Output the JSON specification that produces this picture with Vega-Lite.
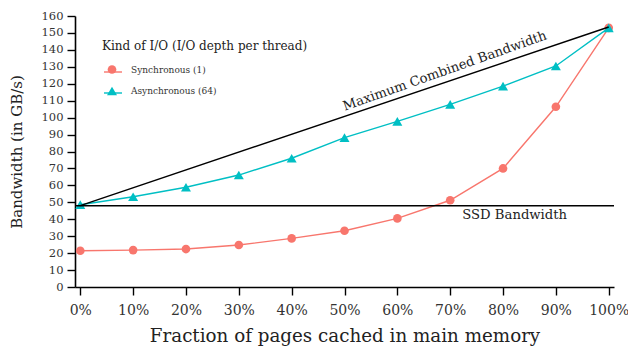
{
  "$schema": "https://vega.github.io/schema/vega-lite/v6.json",
  "width": 539,
  "height": 271,
  "autosize": {"type": "none"},
  "padding": {"left": 75, "top": 16, "right": 14, "bottom": 59},
  "config": {
    "font": "DejaVu Serif",
    "view": {"stroke": null},
    "axis": {
      "grid": false,
      "domainColor": "black",
      "domainWidth": 1.6,
      "tickColor": "black",
      "tickWidth": 1.4,
      "tickSize": 8,
      "labelColor": "#333",
      "labelFont": "DejaVu Serif",
      "labelOverlap": false,
      "titleFont": "DejaVu Serif",
      "titleFontWeight": "normal",
      "titleColor": "#222"
    },
    "legend": {
      "padding": 0,
      "titleFont": "DejaVu Serif",
      "titleFontWeight": "normal",
      "titleFontSize": 12,
      "titleLimit": 400,
      "titleColor": "#222",
      "labelFont": "DejaVu Serif",
      "labelFontSize": 9,
      "labelColor": "#333"
    }
  },
  "datasets": {
    "io": [
      {"x": 0, "y": 21.4, "kind": "Synchronous (1)"},
      {"x": 10, "y": 21.8, "kind": "Synchronous (1)"},
      {"x": 20, "y": 22.4, "kind": "Synchronous (1)"},
      {"x": 30, "y": 24.8, "kind": "Synchronous (1)"},
      {"x": 40, "y": 28.7, "kind": "Synchronous (1)"},
      {"x": 50, "y": 33.2, "kind": "Synchronous (1)"},
      {"x": 60, "y": 40.5, "kind": "Synchronous (1)"},
      {"x": 70, "y": 51.2, "kind": "Synchronous (1)"},
      {"x": 80, "y": 70, "kind": "Synchronous (1)"},
      {"x": 90, "y": 106.4, "kind": "Synchronous (1)"},
      {"x": 100, "y": 153, "kind": "Synchronous (1)"},
      {"x": 0, "y": 48.6, "kind": "Asynchronous (64)"},
      {"x": 10, "y": 53.3, "kind": "Asynchronous (64)"},
      {"x": 20, "y": 58.9, "kind": "Asynchronous (64)"},
      {"x": 30, "y": 66.1, "kind": "Asynchronous (64)"},
      {"x": 40, "y": 76, "kind": "Asynchronous (64)"},
      {"x": 50, "y": 88.2, "kind": "Asynchronous (64)"},
      {"x": 60, "y": 97.8, "kind": "Asynchronous (64)"},
      {"x": 70, "y": 107.8, "kind": "Asynchronous (64)"},
      {"x": 80, "y": 118.6, "kind": "Asynchronous (64)"},
      {"x": 90, "y": 130.5, "kind": "Asynchronous (64)"},
      {"x": 100, "y": 153, "kind": "Asynchronous (64)"}
    ],
    "maxbw": [{"x": 0, "y": 48}, {"x": 100, "y": 153.5}],
    "ssd": [{"x": -1, "y": 48}, {"x": 101, "y": 48}],
    "label1": [{"x": 69, "y": 127.5, "text": "Maximum Combined Bandwidth"}],
    "label2": [{"x": 82.2, "y": 42.5, "text": "SSD Bandwidth"}]
  },
  "encoding": {
    "x": {
      "field": "x", "type": "quantitative",
      "scale": {"domain": [-1, 101], "nice": false, "zero": false},
      "axis": {
        "values": [0, 10, 20, 30, 40, 50, 60, 70, 80, 90, 100],
        "labelExpr": "datum.value + '%'",
        "labelFontSize": 14,
        "labelPadding": 8,
        "title": "Fraction of pages cached in main memory",
        "titleFontSize": 18.3,
        "titlePadding": 10
      }
    },
    "y": {
      "field": "y", "type": "quantitative",
      "scale": {"domain": [0, 160], "nice": false},
      "axis": {
        "values": [0, 10, 20, 30, 40, 50, 60, 70, 80, 90, 100, 110, 120, 130, 140, 150, 160],
        "labelFontSize": 11.5,
        "labelPadding": 4,
        "title": "Bandwidth (in GB/s)",
        "titleFontSize": 15,
        "titlePadding": 17
      }
    }
  },
  "layer": [
    {
      "data": {"name": "io"},
      "mark": {"type": "line", "strokeWidth": 1.4},
      "encoding": {
        "color": {
          "field": "kind", "type": "nominal",
          "scale": {"domain": ["Asynchronous (64)", "Synchronous (1)"], "range": ["#00BFC4", "#F8766D"]},
          "legend": {
            "orient": "top-left", "offset": 27,
            "values": ["Synchronous (1)", "Asynchronous (64)"],
            "title": " ",
            "titlePadding": 7,
            "symbolType": "stroke", "symbolSize": 324, "symbolStrokeWidth": 1.4, "symbolOffset": 1,
            "labelExpr": "' '", "labelOffset": 8,
            "rowPadding": 6
          }
        }
      }
    },
    {
      "data": {"name": "io"},
      "mark": {"type": "point", "filled": true, "opacity": 1},
      "encoding": {
        "fill": {
          "field": "kind", "type": "nominal",
          "scale": {"domain": ["Synchronous (1)", "Asynchronous (64)"], "range": ["#F8766D", "#00BFC4"]},
          "legend": {
            "orient": "none", "legendX": 27, "legendY": 25,
            "title": "Kind of I/O (I/O depth per thread)",
            "titlePadding": 11,
            "symbolOffset": 4,
            "labelOffset": 13,
            "rowPadding": 6
          }
        },
        "shape": {
          "field": "kind", "type": "nominal",
          "scale": {"domain": ["Synchronous (1)", "Asynchronous (64)"], "range": ["circle", "triangle-up"]},
          "legend": {
            "orient": "none", "legendX": 27, "legendY": 25,
            "title": "Kind of I/O (I/O depth per thread)",
            "titlePadding": 11,
            "symbolOffset": 4,
            "labelOffset": 13,
            "rowPadding": 6
          }
        },
        "size": {
          "field": "kind", "type": "nominal",
          "scale": {"domain": ["Synchronous (1)", "Asynchronous (64)"], "range": [75, 100]},
          "legend": {
            "orient": "none", "legendX": 27, "legendY": 25,
            "title": "Kind of I/O (I/O depth per thread)",
            "titlePadding": 11,
            "symbolOffset": 4,
            "labelOffset": 13,
            "rowPadding": 6
          }
        }
      }
    },
    {
      "data": {"name": "ssd"},
      "mark": {"type": "line", "color": "black", "strokeWidth": 1.4}
    },
    {
      "data": {"name": "maxbw"},
      "mark": {"type": "line", "color": "black", "strokeWidth": 1.4}
    },
    {
      "data": {"name": "label1"},
      "mark": {"type": "text", "angle": -19.5, "fontSize": 13.2, "color": "#222", "font": "DejaVu Serif"},
      "encoding": {"text": {"field": "text"}}
    },
    {
      "data": {"name": "label2"},
      "mark": {"type": "text", "fontSize": 13.2, "color": "#222", "font": "DejaVu Serif"},
      "encoding": {"text": {"field": "text"}}
    }
  ]
}
